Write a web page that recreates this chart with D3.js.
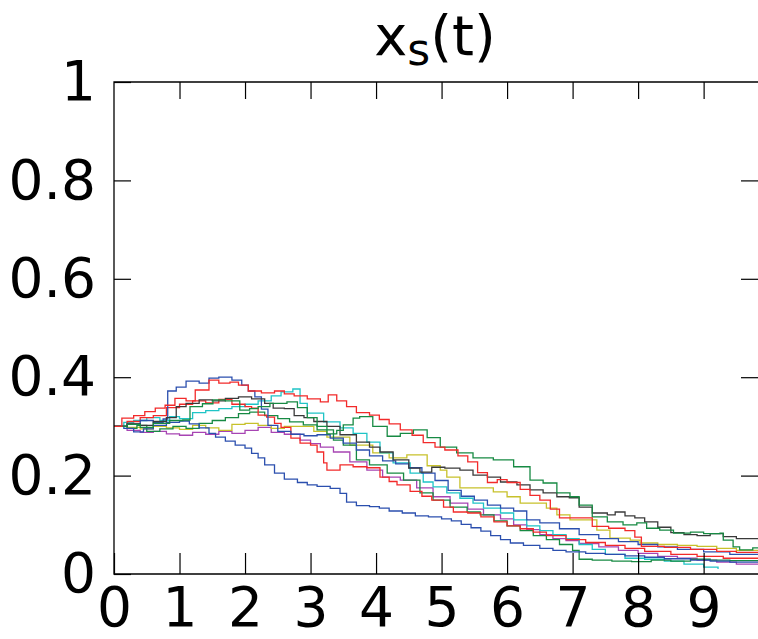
<!DOCTYPE html>
<html>
<head>
<meta charset="utf-8">
<script src="https://cdn.jsdelivr.net/npm/d3@7"></script>
<style>
  html, body { margin: 0; padding: 0; background: #ffffff; }
  svg { display: block; }
  text { font-family: "DejaVu Sans", sans-serif; fill: #000; }
</style>
</head>
<body>
<svg id="chart" width="758" height="639"></svg>
<script>
// Ten stochastic trajectories x_s(t), each a step path of [t, x] pairs.
const blueA = [[0,.300],[.15,.296],[.3,.289],[.45,.295],[.6,.302],[.8,.308],[1.0,.311],[1.15,.305],[1.3,.297],[1.45,.286],[1.55,.278],[1.7,.270],[1.85,.262],[2.0,.256],[2.1,.245],[2.2,.236],[2.3,.222],[2.45,.205],[2.6,.193],[2.8,.186],[2.95,.181],[3.1,.178],[3.3,.174],[3.45,.164],[3.55,.146],[3.7,.139],[3.9,.137],[4.05,.134],[4.2,.128],[4.4,.124],[4.6,.118],[4.8,.116],[5.0,.112],[5.15,.108],[5.3,.101],[5.45,.094],[5.6,.087],[5.75,.078],[5.9,.070],[6.05,.063],[6.25,.058],[6.5,.052],[6.7,.048],[6.9,.045],[7.2,.042],[7.5,.040],[7.8,.037],[8.1,.034],[8.4,.031],[8.8,.028],[9.1,.026],[9.4,.024],[9.9,.022]];
const blueB = [[0,.300],[.2,.305],[.4,.312],[.6,.308],[.75,.315],[.82,.372],[.95,.380],[1.1,.392],[1.3,.388],[1.45,.398],[1.6,.400],[1.8,.394],[1.95,.384],[2.05,.372],[2.15,.360],[2.25,.335],[2.35,.302],[2.5,.290],[2.7,.284],[2.9,.281],[3.1,.283],[3.3,.276],[3.5,.266],[3.7,.252],[3.9,.240],[4.1,.230],[4.3,.224],[4.5,.216],[4.7,.205],[4.9,.190],[5.1,.170],[5.3,.158],[5.5,.150],[5.7,.140],[5.9,.134],[6.1,.128],[6.3,.110],[6.5,.104],[6.8,.092],[7.1,.080],[7.4,.072],[7.7,.066],[8.0,.060],[8.3,.055],[8.6,.050],[9.0,.045],[9.4,.040],[9.9,.038]];
const redA = [[0,.300],[.12,.317],[.3,.322],[.47,.330],[.63,.337],[.78,.343],[.93,.357],[1.1,.352],[1.24,.374],[1.45,.394],[1.6,.388],[1.77,.390],[1.9,.384],[2.05,.372],[2.25,.368],[2.45,.372],[2.6,.366],[2.75,.362],[2.95,.356],[3.15,.350],[3.27,.364],[3.4,.352],[3.55,.340],[3.7,.328],[3.9,.323],[4.05,.314],[4.2,.305],[4.37,.293],[4.55,.282],[4.72,.267],[4.9,.258],[5.05,.252],[5.25,.240],[5.4,.228],[5.55,.206],[5.7,.186],[5.85,.192],[6.0,.186],[6.2,.172],[6.35,.160],[6.5,.150],[6.66,.132],[6.8,.114],[7.1,.114],[7.3,.097],[7.55,.093],[7.8,.088],[7.95,.075],[8.05,.056],[8.4,.054],[8.8,.050],[9.2,.046],[9.5,.044],[9.9,.042]];
const redB = [[0,.300],[.2,.310],[.4,.318],[.6,.322],[.8,.338],[1.0,.345],[1.2,.352],[1.4,.348],[1.6,.355],[1.8,.345],[2.0,.340],[2.1,.337],[2.2,.323],[2.33,.319],[2.45,.306],[2.55,.298],[2.7,.276],[2.84,.266],[3.0,.262],[3.1,.248],[3.2,.226],[3.25,.211],[3.45,.222],[3.65,.218],[3.86,.216],[4.06,.197],[4.2,.188],[4.32,.181],[4.52,.168],[4.7,.158],[4.85,.150],[5.03,.136],[5.18,.126],[5.4,.124],[5.6,.116],[5.8,.106],[6.0,.098],[6.2,.092],[6.4,.085],[6.6,.078],[6.9,.070],[7.2,.064],[7.5,.058],[7.8,.052],[8.1,.046],[8.5,.040],[8.9,.036],[9.3,.032],[9.9,.028]];
const black = [[0,.300],[.2,.305],[.4,.302],[.6,.310],[.8,.318],[.95,.340],[1.1,.347],[1.3,.354],[1.5,.352],[1.7,.357],[1.9,.360],[2.1,.356],[2.3,.347],[2.43,.337],[2.6,.336],[2.75,.322],[2.9,.318],[3.05,.310],[3.25,.300],[3.45,.283],[3.7,.268],[3.9,.258],[4.06,.248],[4.26,.232],[4.5,.215],[4.67,.207],[4.85,.217],[5.05,.215],[5.28,.211],[5.48,.201],[5.7,.197],[5.9,.187],[6.15,.181],[6.35,.171],[6.55,.165],[6.76,.157],[6.95,.155],[7.1,.136],[7.3,.124],[7.53,.120],[7.65,.126],[7.8,.118],[7.95,.114],[8.1,.106],[8.3,.095],[8.5,.084],[8.7,.080],[8.9,.078],[9.1,.082],[9.3,.076],[9.5,.072],[9.9,.066]];
const greenA = [[0,.300],[.2,.304],[.4,.298],[.6,.306],[.85,.312],[1.05,.313],[1.16,.340],[1.35,.346],[1.51,.354],[1.7,.352],[1.92,.333],[2.07,.336],[2.2,.340],[2.38,.347],[2.64,.350],[2.8,.338],[2.95,.318],[3.1,.300],[3.25,.285],[3.4,.292],[3.5,.303],[3.65,.317],[3.75,.320],[3.95,.300],[4.17,.280],[4.37,.286],[4.57,.293],[4.78,.277],[4.98,.258],[5.23,.246],[5.48,.236],[5.79,.232],[6.1,.218],[6.35,.191],[6.55,.185],[6.76,.165],[6.96,.157],[7.1,.140],[7.3,.116],[7.53,.106],[7.77,.100],[7.98,.104],[8.13,.093],[8.33,.089],[8.54,.083],[8.8,.085],[9.0,.082],[9.25,.083],[9.3,.069],[9.45,.055],[9.55,.049],[9.75,.053],[9.9,.052]];
const greenB = [[0,.300],[.2,.296],[.35,.302],[.5,.290],[.7,.295],[.9,.300],[1.1,.296],[1.3,.306],[1.5,.312],[1.7,.318],[1.9,.326],[2.07,.329],[2.3,.322],[2.5,.316],[2.68,.309],[2.89,.303],[3.1,.293],[3.35,.272],[3.5,.262],[3.7,.232],[3.9,.222],[4.17,.205],[4.42,.191],[4.67,.165],[4.87,.150],[5.13,.136],[5.39,.126],[5.59,.120],[5.8,.108],[6.0,.098],[6.2,.088],[6.4,.078],[6.6,.070],[6.8,.060],[7.0,.048],[7.1,.030],[7.3,.028],[7.6,.026],[7.9,.025],[8.2,.028],[8.5,.026],[8.8,.030],[9.1,.028],[9.4,.027],[9.9,.030]];
const cyan = [[0,.300],[.15,.308],[.3,.312],[.5,.318],[.7,.312],[.85,.320],[1.0,.316],[1.2,.328],[1.4,.332],[1.6,.336],[1.8,.340],[2.0,.345],[2.2,.352],[2.4,.362],[2.55,.370],[2.73,.376],[2.84,.347],[2.95,.327],[3.2,.309],[3.45,.297],[3.65,.286],[3.86,.268],[4.06,.246],[4.26,.226],[4.52,.205],[4.72,.187],[4.87,.177],[5.08,.165],[5.28,.154],[5.48,.144],[5.64,.134],[5.9,.124],[6.1,.110],[6.3,.098],[6.5,.088],[6.7,.080],[6.9,.072],[7.1,.060],[7.3,.050],[7.5,.040],[7.8,.032],[8.1,.030],[8.4,.026],[8.7,.020],[9.0,.014],[9.22,.010]];
const olive = [[0,.300],[.2,.298],[.4,.295],[.6,.300],[.8,.297],[1.0,.294],[1.2,.302],[1.4,.297],[1.6,.292],[1.8,.304],[2.0,.306],[2.2,.302],[2.4,.296],[2.6,.300],[2.84,.300],[3.05,.290],[3.25,.278],[3.6,.262],[3.95,.246],[4.2,.236],[4.47,.242],[4.78,.220],[4.98,.211],[5.08,.197],[5.28,.175],[5.55,.175],[5.79,.167],[6.0,.157],[6.2,.144],[6.35,.144],[6.6,.134],[6.76,.120],[6.96,.110],[7.3,.110],[7.37,.089],[7.57,.073],[7.88,.069],[8.03,.063],[8.3,.060],[8.6,.058],[8.9,.056],[9.2,.052],[9.5,.048],[9.9,.045]];
const magenta = [[0,.300],[.2,.292],[.4,.288],[.6,.290],[.8,.285],[1.0,.282],[1.2,.288],[1.4,.284],[1.6,.290],[1.8,.286],[2.0,.292],[2.2,.298],[2.4,.288],[2.6,.284],[2.84,.272],[3.0,.265],[3.15,.258],[3.35,.248],[3.6,.228],[3.86,.211],[4.1,.197],[4.37,.191],[4.62,.175],[4.87,.157],[5.13,.144],[5.4,.132],[5.64,.120],[5.9,.112],[6.1,.100],[6.3,.090],[6.5,.080],[6.7,.072],[6.9,.068],[7.1,.062],[7.4,.055],[7.7,.048],[8.0,.042],[8.3,.036],[8.6,.032],[8.9,.028],[9.2,.024],[9.5,.020],[9.9,.018]];

const runs = [magenta, olive, cyan, greenB, blueA, redB, blueB, black, greenA, redA];
const runColors = ["#a744b3", "#c7c12b", "#1fc4c6", "#178a43", "#2b4fae", "#f22a2a", "#2b4fae", "#3a3a3a", "#178a43", "#f22a2a"];

const xTicks = [0, 1, 2, 3, 4, 5, 6, 7, 8, 9];
const yTicks = [0, 0.2, 0.4, 0.6, 0.8, 1];
const yTickLabels = ["0", "0.2", "0.4", "0.6", "0.8", "1"];
const xMax = 9.83;

const svg = d3.select("#chart");
const plotLeft = 114, plotRight = 758, plotTop = 82, plotBottom = 574;
const fontSize = 55;

const x = d3.scaleLinear().domain([0, xMax]).range([plotLeft, plotRight]);
const y = d3.scaleLinear().domain([0, 1]).range([plotBottom, plotTop]);

svg.append("defs").append("clipPath").attr("id", "plot-clip")
  .append("rect").attr("x", plotLeft).attr("y", plotTop - 1)
  .attr("width", plotRight - plotLeft).attr("height", plotBottom - plotTop + 2);

// trajectories
const line = d3.line()
  .x(d => x(d[0]))
  .y(d => y(d[1]))
  .curve(d3.curveStepAfter);

svg.append("g").attr("clip-path", "url(#plot-clip)")
  .selectAll("path")
  .data(runs)
  .join("path")
  .attr("d", d => line(d))
  .attr("fill", "none")
  .attr("stroke", (d, i) => runColors[i])
  .attr("stroke-width", 1.3)
  .attr("stroke-linejoin", "miter");

// axes with inward ticks on all four sides
const axisStyle = g => {
  g.select(".domain").remove();
  g.selectAll(".tick line").attr("stroke", "#000").attr("stroke-width", 1.2);
};

svg.append("g")
  .attr("transform", `translate(0,${plotBottom})`)
  .call(d3.axisBottom(x).tickValues(xTicks).tickSizeInner(-21).tickSizeOuter(0)
    .tickPadding(13).tickFormat(d3.format("d")))
  .call(axisStyle)
  .call(g => g.selectAll("text").attr("font-size", fontSize)
    .attr("font-family", "DejaVu Sans").attr("fill", "#000"));

svg.append("g")
  .attr("transform", `translate(0,${plotTop})`)
  .call(d3.axisTop(x).tickValues(xTicks.filter(v => v > 0)).tickSizeInner(-17)
    .tickSizeOuter(0).tickFormat(""))
  .call(axisStyle);

svg.append("g")
  .attr("transform", `translate(${plotLeft},0)`)
  .call(d3.axisLeft(y).tickValues(yTicks).tickSizeInner(-17).tickSizeOuter(0)
    .tickPadding(18).tickFormat((d, i) => yTickLabels[i]))
  .call(axisStyle)
  .call(g => g.selectAll("text").attr("font-size", fontSize)
    .attr("font-family", "DejaVu Sans").attr("fill", "#000"));

svg.append("g")
  .attr("transform", `translate(${plotRight},0)`)
  .call(d3.axisRight(y).tickValues(yTicks.filter(v => v > 0 && v < 1)).tickSizeInner(-17)
    .tickSizeOuter(0).tickFormat(""))
  .call(axisStyle);

// frame: left, top and bottom edges (the right edge lies at the canvas border)
svg.append("path")
  .attr("d", `M${plotRight},${plotTop}H${plotLeft}V${plotBottom}H${plotRight}`)
  .attr("fill", "none")
  .attr("stroke", "#000")
  .attr("stroke-width", 1.3);

// title x_s(t)
const title = svg.append("text")
  .attr("x", 435).attr("y", 55)
  .attr("text-anchor", "middle")
  .attr("font-size", 56);
title.append("tspan").text("x");
title.append("tspan").attr("font-size", 44).attr("dy", 10).text("s");
title.append("tspan").attr("font-size", 56).attr("dy", -10).text("(t)");
</script>
</body>
</html>
